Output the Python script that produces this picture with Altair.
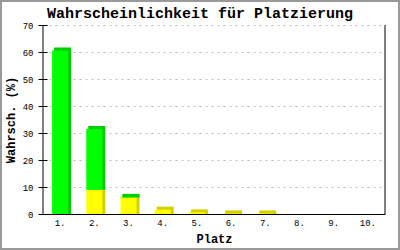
import altair as alt
import pandas as pd

places = ["1.", "2.", "3.", "4.", "5.", "6.", "7.", "8.", "9.", "10."]
yellow = [0.0, 9.0, 6.1, 1.6, 0.6, 0.2, 0.2, 0.0, 0.0, 0.0]
green = [60.6, 22.5, 0.25, 0.0, 0.0, 0.0, 0.0, 0.0, 0.0, 0.0]
y_ticks = [0, 10, 20, 30, 40, 50, 60, 70]
title_text = "Wahrscheinlichkeit für Platzierung"

rows = []
for p, yv, gv in zip(places, yellow, green):
    rows.append({"place": p, "seg": "yellow", "start": 0.0, "end": yv})
    rows.append({"place": p, "seg": "green", "start": yv, "end": yv + gv})
df = pd.DataFrame(rows)
df = df[df["end"] > df["start"]]

W, H = 342, 189
MONO = "Liberation Mono"

x_enc = alt.X(
    "place:N", sort=places,
    scale=alt.Scale(domain=places, paddingInner=0, paddingOuter=0),
    axis=alt.Axis(ticks=False, domainColor="black", domainWidth=1, labelAngle=0,
                  labelFont=MONO, labelFontSize=9, labelColor="black", labelPadding=4,
                  title="Platz", titleFont=MONO, titleFontSize=12, titleFontWeight="bold",
                  titleColor="black", titlePadding=6),
)
y_enc = alt.Y(
    "end:Q",
    scale=alt.Scale(domain=[0, 70], nice=False),
    axis=alt.Axis(values=y_ticks, tickSize=9, offset=-4, domain=False, tickColor="black",
                  labelFont=MONO, labelFontSize=9, labelColor="black", labelPadding=5,
                  grid=True, gridDash=[2, 4], gridColor="#BBBBBB",
                  title="Wahrsch. (%)", titleFont=MONO, titleFontSize=12,
                  titleFontWeight="bold", titleColor="black", titlePadding=5),
)

dark = alt.Chart(df).mark_bar(width=17, xOffset=2.5, yOffset=-3).encode(
    x=x_enc, y=y_enc, y2="start:Q",
    color=alt.Color("seg:N", scale=alt.Scale(domain=["yellow", "green"], range=["#D4D000", "#00CC00"]), legend=None),
)
front = alt.Chart(df).mark_bar(width=16).encode(
    x=x_enc, y=y_enc, y2="start:Q",
    color=alt.Color("seg:N", scale=alt.Scale(domain=["yellow", "green"], range=["#FFFF00", "#00FF00"]), legend=None),
)

one = pd.DataFrame({"a": [0]})
yaxis_line = alt.Chart(one).mark_rule(color="black", strokeWidth=1).encode(
    x=alt.value(0), y=alt.value(0), y2=alt.value(H))
right_line = alt.Chart(one).mark_rule(color="black", strokeWidth=1).encode(
    x=alt.value(W), y=alt.value(0), y2=alt.value(H))
border = alt.Chart(one).mark_rect(fill="transparent", stroke="#999999", strokeWidth=2).encode(
    x=alt.value(-42), x2=alt.value(356), y=alt.value(-24), y2=alt.value(224))
title = alt.Chart(one).mark_text(
    text=title_text, font=MONO, fontSize=15, fontWeight="bold", color="black",
    align="center", baseline="alphabetic").encode(x=alt.value(157), y=alt.value(-7))

chart = alt.layer(dark, front, yaxis_line, right_line, border, title).resolve_scale(
    color="independent"
).properties(
    width=W, height=H,
    autosize=alt.AutoSizeParams(type="none"),
    padding={"left": 43, "top": 25, "right": 15, "bottom": 36},
    background="white",
).configure_view(stroke=None)

chart.save("out.html", embed_options={"renderer": "svg", "actions": False})
